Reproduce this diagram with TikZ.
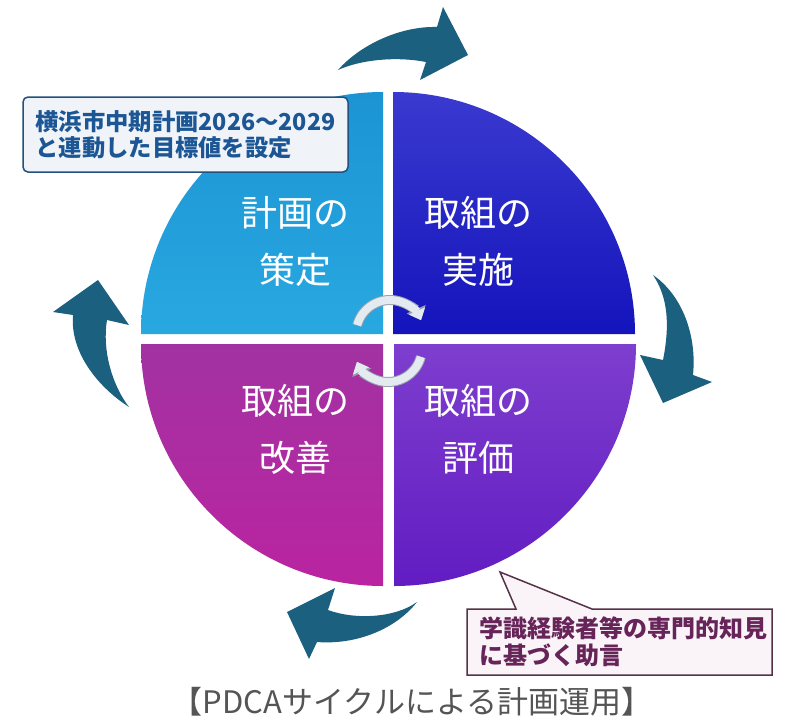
\documentclass[tikz,border=0pt]{standalone}
\usepackage{fontspec}
\setmainfont{Noto Sans CJK JP}
\usepackage{xcolor}
\usetikzlibrary{arrows.meta}

\definecolor{planlight}{RGB}{28,148,212}
\definecolor{plandark}{RGB}{40,168,224}
\definecolor{dolight}{RGB}{58,58,208}
\definecolor{dodark}{RGB}{20,20,188}
\definecolor{actlight}{RGB}{162,50,162}
\definecolor{actdark}{RGB}{186,36,160}
\definecolor{checklight}{RGB}{126,62,206}
\definecolor{checkdark}{RGB}{98,28,194}
\definecolor{turnteal}{RGB}{28,96,128}
\definecolor{ringwhite}{RGB}{228,235,240}
\definecolor{ringedge}{RGB}{150,162,172}
\definecolor{goalline}{RGB}{35,80,125}
\definecolor{goalfill}{RGB}{240,244,249}
\definecolor{goalink}{RGB}{28,86,148}
\definecolor{adviceline}{RGB}{85,50,72}
\definecolor{advicefill}{RGB}{250,244,248}
\definecolor{adviceink}{RGB}{102,36,88}
\definecolor{captiongray}{RGB}{85,85,85}

\begin{document}
\begin{tikzpicture}[x=1pt, y=-1pt, thick,
	phase/.style={text=white, align=center, font=\fontsize{36}{57}\selectfont},
	turn/.style={fill=turnteal},
	ringback/.style={line width=10, draw=ringedge, -{Triangle[width=20pt,length=12pt]}},
	ringfront/.style={line width=8, draw=ringwhite, -{Triangle[width=17pt,length=10pt]}}]
		\fill[white] (0,0) rectangle (787,723);
		\useasboundingbox (0,0) rectangle (787,723);
		% plan quarter
		\shade[top color=planlight, bottom color=plandark] (383,334) -- (141,334) arc[start angle=180, end angle=270, radius=242] -- cycle;
		% do quarter
		\shade[top color=dolight, bottom color=dodark] (393,334) -- (393,92) arc[start angle=270, end angle=360, radius=242] -- cycle;
		% act quarter
		\shade[top color=actlight, bottom color=actdark] (383,344) -- (383,586) arc[start angle=90, end angle=180, radius=242] -- cycle;
		% check quarter
		\shade[top color=checklight, bottom color=checkdark] (394,344) -- (636,344) arc[start angle=0, end angle=90, radius=242] -- cycle;
		% phase labels
		\node[phase] (plan) at (295,241) {計画の\\策定};
		\node[phase] (do) at (478,241) {取組の\\実施};
		\node[phase] (act) at (295,429) {取組の\\改善};
		\node[phase] (check) at (478,429) {取組の\\評価};
		% inner ring arrows
		\draw[ringback] (390,334) ++(195:34) arc[start angle=195, end angle=336, radius=34];
		\draw[ringfront] (390,334) ++(195:34) arc[start angle=195, end angle=336, radius=34];
		\draw[ringback] (388,348) ++(15:34) arc[start angle=15, end angle=156, radius=34];
		\draw[ringfront] (388,348) ++(15:34) arc[start angle=15, end angle=156, radius=34];
		% outer turning arrows
		\fill[turn] (338,70) .. controls (360,45) and (400,26) .. (437,27) -- (443,7) -- (468,55) -- (420,80) -- (426,62) .. controls (395,56) and (360,60) .. cycle;
		\fill[turn] (653,275) .. controls (682,295) and (697,335) .. (693,375) -- (712,382) -- (663,403) -- (640,355) -- (663,360) .. controls (670,325) and (668,297) .. cycle;
		\fill[turn] (417,602) .. controls (395,630) and (355,645) .. (317,642) -- (309,659) -- (287,612) -- (335,588) -- (328,610) .. controls (355,620) and (395,618) .. cycle;
		\fill[turn] (129,407) .. controls (95,385) and (70,350) .. (73,315) -- (53,312) -- (98,280) -- (129,325) -- (107,320) .. controls (102,350) and (112,385) .. cycle;
		% target note
		\node[draw=goalline, line width=1.5, fill=goalfill, rounded corners=5, minimum width=325, minimum height=75, align=left, text=goalink, font=\fontsize{23.3}{26}\selectfont\bfseries] (goal) at (185.5,134.5) {横浜市中期計画2026～2029\\と連動した目標値を設定};
		% advice note
		\filldraw[draw=adviceline, fill=advicefill, line width=1.5] (467,609) -- (516,609) -- (500,572) -- (592,609) -- (772,609) -- (772,675) -- (467,675) -- cycle;
		\node[align=left, text=adviceink, font=\fontsize{24}{27}\selectfont\bfseries] (advice) at (623,642) {学識経験者等の専門的知見\\に基づく助言};
		% caption
		\node[text=captiongray, font=\fontsize{31}{34}\selectfont] (title) at (412,702) {【PDCAサイクルによる計画運用】};
	\end{tikzpicture}
\end{document}
